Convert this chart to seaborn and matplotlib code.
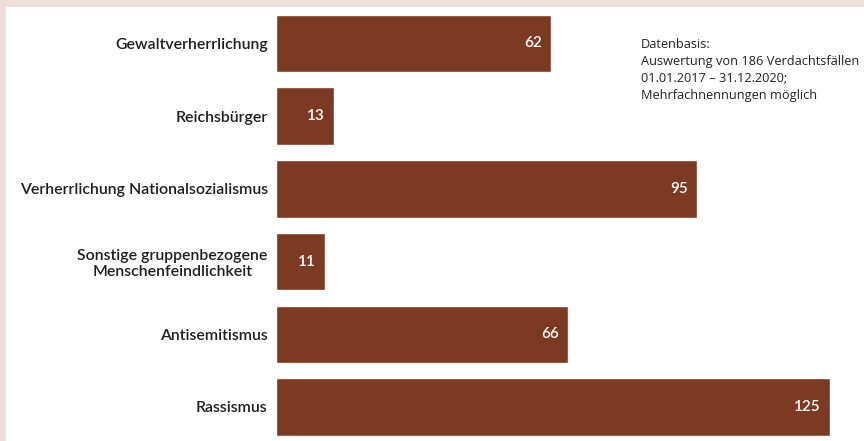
import pandas as pd
import seaborn as sns
import matplotlib.pyplot as plt
from matplotlib.patches import Rectangle

# Verdachtsfälle nach Kategorie
categories = [
    "Gewaltverherrlichung",
    "Reichsbürger",
    "Verherrlichung Nationalsozialismus",
    "Sonstige gruppenbezogene\nMenschenfeindlichkeit",
    "Antisemitismus",
    "Rassismus",
]
counts = [62, 13, 95, 11, 66, 125]

note = ("Datenbasis:\n"
        "Auswertung von 186 Verdachtsfällen\n"
        "01.01.2017 – 31.12.2020;\n"
        "Mehrfachnennungen möglich")

BAR = "#7d3a22"
FRAME = "#ece0d9"


def plot_cases(df):
    sns.set_theme(style="white")
    plt.rcParams['font.family'] = ['Lato', 'DejaVu Sans']

    fig = plt.figure(figsize=(8.64, 4.41), dpi=100, facecolor=FRAME)
    # white panel inside the beige frame
    fig.patches.append(Rectangle((6 / 864, 0), 858 / 864, 434 / 441,
                                 transform=fig.transFigure, facecolor="white",
                                 edgecolor="none", zorder=-10))
    ax = fig.add_axes([276 / 864, 0, 1 - 276 / 864, 434 / 441])
    ax.patch.set_alpha(0)

    sns.barplot(data=df, x="count", y="category", color=BAR, saturation=1,
                width=0.79, ax=ax)

    ax.set_xlim(0, 132.7)
    ax.set_ylim(5.468, -0.502)
    ax.set_xlabel("")
    ax.set_ylabel("")
    ax.set_xticks([])
    sns.despine(ax=ax, left=True, bottom=True)
    ax.tick_params(axis="y", length=0, pad=6)
    for lab in ax.get_yticklabels():
        lab.set_fontsize(11.4)
        lab.set_fontweight("semibold")
        lab.set_color("#1e1e1e")
        lab.set_multialignment("center")

    for i, v in enumerate(df["count"]):
        ax.annotate(str(v), (v, i), xytext=(-6.5, 0), textcoords="offset points",
                    ha="right", va="center", color="white", fontsize=11,
                    fontweight="semibold")

    fig.text(641 / 864, 1 - 38 / 441, note, ha="left", va="top", fontsize=9.2,
             color="#222222", linespacing=1.4, family=["Open Sans", "DejaVu Sans"])

    plt.savefig("out.png", dpi=100, facecolor=FRAME)


if __name__ == "__main__":
    df = pd.DataFrame({"category": categories, "count": counts})
    plot_cases(df)
